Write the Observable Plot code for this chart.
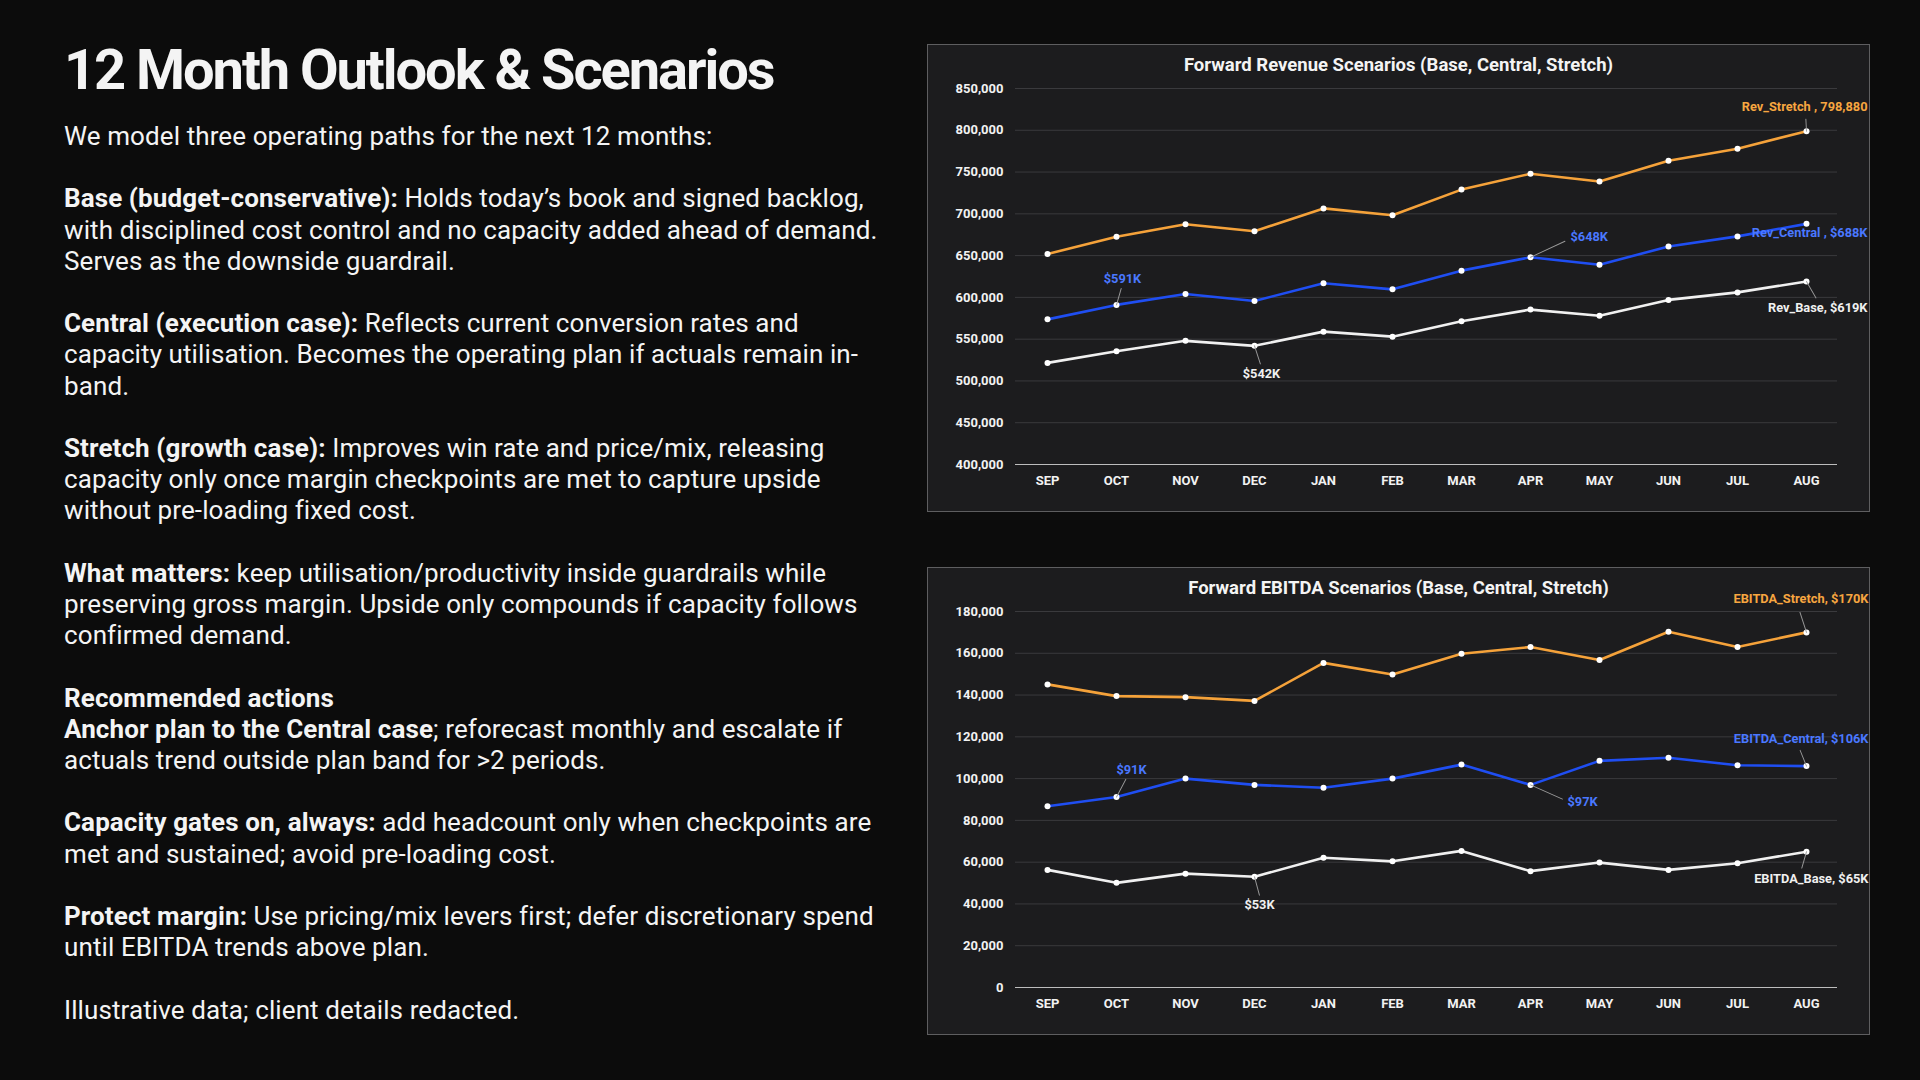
<!DOCTYPE html>
<html>
<head>
<meta charset="utf-8">
<script src="https://cdn.jsdelivr.net/npm/d3@7"></script>
<script src="https://cdn.jsdelivr.net/npm/@observablehq/plot@0.6"></script>
<style>
  html, body { margin: 0; padding: 0; background: #0c0c0c; }
  body { width: 1920px; height: 1080px; position: relative; overflow: hidden; font-family: Roboto, "Noto Sans", sans-serif; color: #f4f4f4; }
  #title { position: absolute; left: 64px; top: 42px; font-size: 56px; line-height: 56px; font-weight: 700; letter-spacing: -2.05px; white-space: nowrap; }
  #body { position: absolute; left: 64px; top: 121px; font-size: 26px; line-height: 31.2px; letter-spacing: 0.1px; white-space: nowrap; }
  #body b { font-weight: 700; }
  .panel { position: absolute; left: 927px; width: 941px; height: 466px; background: #1c1c1e; border: 1px solid #5e5e60; }
  .ptitle { position: absolute; left: 0; right: 0; top: 10px; text-align: center; font-size: 18.5px; line-height: 20px; font-weight: 700; color: #f4f4f4; }
  .panel svg { position: absolute; left: 0; top: 0; }
</style>
</head>
<body>
<div id="title">12 Month Outlook &amp; Scenarios</div>
<div id="body">
We model three operating paths for the next 12 months:<br><br>
<b>Base (budget-conservative):</b> Holds today’s book and signed backlog,<br>
with disciplined cost control and no capacity added ahead of demand.<br>
Serves as the downside guardrail.<br><br>
<b>Central (execution case):</b> Reflects current conversion rates and<br>
capacity utilisation. Becomes the operating plan if actuals remain in-<br>
band.<br><br>
<b>Stretch (growth case):</b> Improves win rate and price/mix, releasing<br>
capacity only once margin checkpoints are met to capture upside<br>
without pre-loading fixed cost.<br><br>
<b>What matters:</b> keep utilisation/productivity inside guardrails while<br>
preserving gross margin. Upside only compounds if capacity follows<br>
confirmed demand.<br><br>
<b>Recommended actions</b><br>
<b>Anchor plan to the Central case</b>; reforecast monthly and escalate if<br>
actuals trend outside plan band for &gt;2 periods.<br><br>
<b>Capacity gates on, always:</b> add headcount only when checkpoints are<br>
met and sustained; avoid pre-loading cost.<br><br>
<b>Protect margin:</b> Use pricing/mix levers first; defer discretionary spend<br>
until EBITDA trends above plan.<br><br>
Illustrative data; client details redacted.
</div>

<div class="panel" id="rev" style="top:44px;"><div class="ptitle">Forward Revenue Scenarios (Base, Central, Stretch)</div></div>
<div class="panel" id="ebitda" style="top:567px;"><div class="ptitle">Forward EBITDA Scenarios (Base, Central, Stretch)</div></div>

<script>
// ---- Data ----
const months = ["SEP","OCT","NOV","DEC","JAN","FEB","MAR","APR","MAY","JUN","JUL","AUG"];

const revBase    = [521600, 535600, 548000, 542000, 559000, 553000, 571500, 585400, 578000, 597000, 606000, 619000];
const revCentral = [573700, 591000, 604000, 595700, 617000, 609600, 632000, 648000, 639000, 661000, 673000, 688000];
const revStretch = [652000, 672600, 687500, 679200, 706500, 698300, 729000, 748000, 738600, 763500, 778000, 798880];

const ebitdaBase    = [56300, 50100, 54500, 53000, 62100, 60400, 65400, 55700, 59800, 56300, 59500, 65000];
const ebitdaCentral = [86800, 91200, 100000, 97000, 95600, 100000, 106700, 97000, 108500, 110000, 106400, 106000];
const ebitdaStretch = [145100, 139500, 139000, 137200, 155400, 149800, 159800, 163000, 156800, 170300, 163000, 170000];

const revTicks = d3.range(400000, 850001, 50000);
const ebitdaTicks = d3.range(0, 180001, 20000);

const revAnnotations = [
  {series: "Stretch", month: "AUG", text: "Rev_Stretch , 798,880"},
  {series: "Central", month: "OCT", text: "$591K"},
  {series: "Central", month: "APR", text: "$648K"},
  {series: "Central", month: "AUG", text: "Rev_Central , $688K"},
  {series: "Base",    month: "AUG", text: "Rev_Base, $619K"},
  {series: "Base",    month: "DEC", text: "$542K"}
];
const ebitdaAnnotations = [
  {series: "Stretch", month: "AUG", text: "EBITDA_Stretch, $170K"},
  {series: "Central", month: "OCT", text: "$91K"},
  {series: "Central", month: "AUG", text: "EBITDA_Central, $106K"},
  {series: "Central", month: "APR", text: "$97K"},
  {series: "Base",    month: "AUG", text: "EBITDA_Base, $65K"},
  {series: "Base",    month: "DEC", text: "$53K"}
];

// ---- Styles ----
const lineColor = {Stretch: "#f5a23a", Central: "#1f4ef2", Base: "#f0f0f0"};
const labelColor = {Stretch: "#f7a640", Central: "#4a78ff", Base: "#f0f0f0"};

// label placement (pixel offsets from the data point): dx, dy, anchor, leader length, leader angle
const revPlacement = [
  {dx: 61, dy: -24, anchor: "end", len: 12, rot: -3},
  {dx: 6, dy: -26, anchor: "middle", len: 17, rot: 16},
  {dx: 40, dy: -20, anchor: "start", len: 38, rot: 65},
  {dx: 61, dy: 9, anchor: "end", len: 0, rot: 0},
  {dx: 61, dy: 26, anchor: "end", len: 19, rot: 150},
  {dx: 7, dy: 28, anchor: "middle", len: 19, rot: 162}
];
const ebitdaPlacement = [
  {dx: 62, dy: -33, anchor: "end", len: 21, rot: -18},
  {dx: 15, dy: -27, anchor: "middle", len: 20, rot: 28},
  {dx: 62, dy: -27, anchor: "end", len: 17, rot: -22},
  {dx: 37, dy: 17, anchor: "start", len: 35, rot: 114},
  {dx: 62, dy: 27, anchor: "end", len: 17, rot: 196},
  {dx: 5, dy: 28, anchor: "middle", len: 19, rot: 165}
];

const leaderShape = {draw(ctx, l) { ctx.moveTo(0, 0); ctx.lineTo(0, -l); }};

function buildChart(target, seriesList, yDomain, yTicks, annotations, placement) {
  const data = seriesList.flatMap(s => s.values.map((v, i) => ({month: months[i], value: v, series: s.name})));
  const lookup = (a) => data.find(d => d.series === a.series && d.month === a.month);

  const annMarks = annotations.flatMap((a, i) => {
    const p = placement[i];
    const pt = [{...lookup(a), text: a.text}];
    const out = [];
    if (p.len > 0) {
      out.push(Plot.vector(pt, {x: "month", y: "value", length: p.len, rotate: p.rot, anchor: "start",
        shape: leaderShape, stroke: "#9a9a9a", strokeWidth: 0.9}));
    }
    out.push(Plot.text(pt, {x: "month", y: "value", text: "text", dx: p.dx, dy: p.dy, textAnchor: p.anchor,
      fill: labelColor[a.series], fontWeight: 700, fontSize: 12.8}));
    return out;
  });

  const svg = Plot.plot({
    width: 941, height: 466,
    marginLeft: 87, marginRight: 32, marginTop: 43, marginBottom: 47,
    style: {background: "transparent", color: "#f2f2f2", fontFamily: "Roboto, sans-serif", overflow: "visible"},
    x: {type: "point", domain: months, range: [119, 878.5], padding: 0, label: null},
    y: {domain: yDomain, label: null},
    marks: [
      Plot.gridY(yTicks, {stroke: "#3a3a3d", strokeOpacity: 1, strokeWidth: 1}),
      Plot.ruleY([yDomain[0]], {stroke: "#bdbdbd", strokeWidth: 1}),
      Plot.axisY(yTicks, {tickSize: 0, tickPadding: 12, tickFormat: d3.format(","), fontWeight: 700, fontSize: 13, fill: "#f2f2f2", label: null}),
      Plot.axisX({tickSize: 0, tickPadding: 11, fontWeight: 700, fontSize: 13, fill: "#f2f2f2", label: null}),
      ...seriesList.map(s => Plot.line(data.filter(d => d.series === s.name),
        {x: "month", y: "value", stroke: lineColor[s.name], strokeWidth: 2.6})),
      Plot.dot(data, {x: "month", y: "value", r: 3, fill: "#ffffff", stroke: null}),
      ...annMarks
    ]
  });
  document.getElementById(target).appendChild(svg);
}

buildChart("rev", [
  {name: "Stretch", values: revStretch},
  {name: "Central", values: revCentral},
  {name: "Base", values: revBase}
], [400000, 850000], revTicks, revAnnotations, revPlacement);

buildChart("ebitda", [
  {name: "Stretch", values: ebitdaStretch},
  {name: "Central", values: ebitdaCentral},
  {name: "Base", values: ebitdaBase}
], [0, 180000], ebitdaTicks, ebitdaAnnotations, ebitdaPlacement);
</script>
</body>
</html>
